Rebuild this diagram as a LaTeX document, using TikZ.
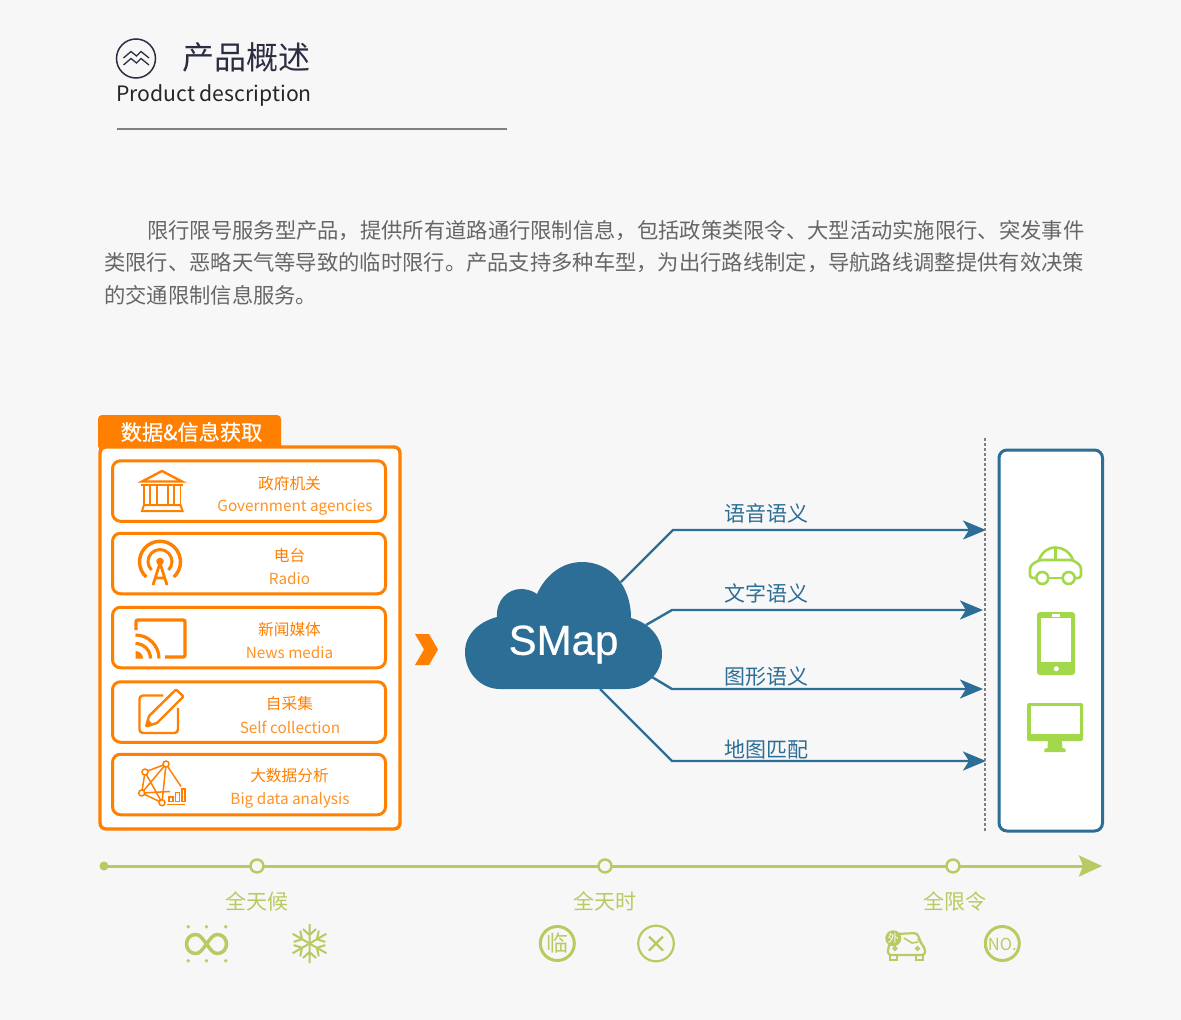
\documentclass[tikz,border=0pt]{standalone}
\usepackage{fontspec}
\setmainfont{Noto Sans CJK SC}
\newfontfamily\titlefont[FakeBold=0.6]{Noto Sans CJK SC}
\newfontfamily\smapfont[FakeBold=0.6]{Liberation Sans}
\usetikzlibrary{arrows.meta}

\definecolor{pagebg}{HTML}{F7F7F7}
\definecolor{dataorange}{HTML}{FF7F00}
\definecolor{cloudblue}{HTML}{2C6E96}
\definecolor{devgreen}{HTML}{A3D84A}
\definecolor{linegreen}{HTML}{B9CA62}
\definecolor{headdark}{HTML}{2B2D42}
\definecolor{bodygrey}{HTML}{666666}

\newcommand{\snowarm}[1]{
    \draw[timeicon, line width=2pt, rotate around={#1:(309.5,-943.5)}]
        (309.5,-943.5) -- (309.5,-924) (303,-929) -- (309.5,-935) -- (316,-929);
}

\begin{document}
\begin{tikzpicture}[x=1pt, y=1pt]
    \tikzset{
        cardbox/.style={draw=dataorange, line width=3pt, fill=white, rounded corners=8pt,
            minimum width=273pt, minimum height=60.5pt},
        cardzh/.style={text=dataorange, font=\fontsize{15.7}{15.7}\selectfont, inner sep=0pt},
        carden/.style={text=dataorange!85, font=\fontsize{15.3}{15.3}\selectfont, inner sep=0pt},
        linkline/.style={draw=cloudblue, line width=2.4pt},
        linktip/.style={linkline, -{Stealth[length=23pt, width=19pt, inset=6pt]}},
        linklabel/.style={text=cloudblue, font=\fontsize{21}{21}\selectfont, inner sep=0pt},
        bodyline/.style={anchor=west, text=bodygrey, font=\fontsize{21.3}{21.3}\selectfont, inner sep=0pt},
        orangeicon/.style={draw=dataorange, line width=2.4pt},
        devicon/.style={draw=devgreen, line width=2.6pt},
        timeicon/.style={draw=linegreen, line width=3pt},
        timelabel/.style={text=linegreen, font=\fontsize{21}{21}\selectfont, inner sep=0pt},
        timestop/.style={circle, draw=linegreen, line width=2.4pt, fill=pagebg, minimum size=13pt, inner sep=0pt},
    }

    % Page
    \fill[pagebg] (0,0) rectangle (1181,-1020);
    \useasboundingbox (0,0) rectangle (1181,-1020);

    % Heading
    \draw[headdark, line width=1.5pt] (136,-58.5) circle (19.5);
    \draw[headdark, line width=1.3pt, line join=miter] (123.5,-58) -- (131,-51.5) -- (136.5,-56) -- (141,-51.5) -- (149,-58);
    \draw[headdark, line width=1.3pt, line join=miter] (123.5,-65) -- (131,-58.5) -- (136.5,-63) -- (141,-58.5) -- (149,-65);
    \node[anchor=west, inner sep=0pt, text=headdark, font=\fontsize{32}{32}\selectfont] (headzh) at (182,-57) {产品概述};
    \node[anchor=west, inner sep=0pt, text=black!85, font=\fontsize{21.2}{21.2}\selectfont] (headen) at (116,-95) {Product description};
    \draw[black!50, line width=1.1pt] (117,-129) -- (507,-129);

    % Body text
    \node[bodyline] (bodya) at (147,-231) {限行限号服务型产品，提供所有道路通行限制信息，包括政策类限令、大型活动实施限行、突发事件};
    \node[bodyline] (bodyb) at (104,-263) {类限行、恶略天气等导致的临时限行。产品支持多种车型，为出行路线制定，导航路线调整提供有效决策};
    \node[bodyline] (bodyc) at (104,-295) {的交通限制信息服务。};

    % Data box
    \fill[dataorange, rounded corners=4pt] (98,-450) -- (98,-415) -- (281,-415) -- (281,-450) -- cycle;
    \draw[dataorange, line width=3.4pt, fill=white, rounded corners=6pt] (100,-447) rectangle (400,-829);
    \fill[dataorange] (98.5,-430) rectangle (281,-446);
    \node[text=white, inner sep=0pt, font=\titlefont\fontsize{21.2}{21.2}\selectfont] (datatitle) at (191.5,-432) {数据\&信息获取};

    % Cards
    \node[cardbox] (govcard) at (249,-491) {};
    \node[cardbox] (radiocard) at (249,-563.5) {};
    \node[cardbox] (newscard) at (249,-637.5) {};
    \node[cardbox] (selfcard) at (249,-712) {};
    \node[cardbox] (bigcard) at (249,-784.5) {};

    \node[cardzh] (govzh) at (289.5,-483) {政府机关};
    \node[carden] (goven) at (295,-507) {Government agencies};
    \node[cardzh] (radiozh) at (289.5,-555) {电台};
    \node[carden] (radioen) at (289.5,-578.5) {Radio};
    \node[cardzh] (newszh) at (289.5,-629) {新闻媒体};
    \node[carden] (newsen) at (289.5,-652.5) {News media};
    \node[cardzh] (selfzh) at (289.5,-704) {自采集};
    \node[carden] (selfen) at (290,-727.5) {Self collection};
    \node[cardzh] (bigzh) at (289.5,-776) {大数据分析};
    \node[carden] (bigen) at (290,-800) {Big data analysis};

    % Government icon
    \draw[orangeicon, line join=miter] (142,-481.5) -- (162,-471) -- (182,-481.5) -- cycle;
    \draw[orangeicon, line width=2pt] (141,-485) -- (183,-485);
    \draw[orangeicon, line width=1.7pt] (144,-485) -- (144,-505) (150,-485) -- (150,-505) (157,-485) -- (157,-505)
        (168,-485) -- (168,-505) (174,-485) -- (174,-505) (180.5,-485) -- (180.5,-505);
    \draw[orangeicon, line width=2pt, line join=miter] (144,-505) -- (180.5,-505) -- (182.5,-511) -- (142,-511) -- cycle;

    % Radio icon
    \draw[orangeicon, line width=3.4pt] (146.3,-577) arc (228:-48:20.5);
    \draw[orangeicon, line width=3pt] (151.5,-570) arc (225:-45:12);
    \fill[dataorange] (160,-561.5) circle (3.8);
    \draw[orangeicon, line width=2.8pt, line join=miter] (153,-585) -- (160,-563) -- (167,-585) (155,-578) -- (165,-578);

    % Media icon
    \draw[orangeicon, line width=3.4pt, rounded corners=2pt] (136,-630) -- (136,-620) -- (185,-620) -- (185,-657) -- (165,-657);
    \fill[dataorange] (135.5,-658.5) -- (135.5,-651) arc (90:0:7.5) -- cycle;
    \draw[orangeicon, line width=3.2pt] (135.5,-643.5) arc (90:0:15);
    \draw[orangeicon, line width=3.2pt] (135.5,-635) arc (90:0:23.5);

    % Pencil icon
    \draw[orangeicon, rounded corners=3.5pt] (163,-695.5) -- (139.5,-695.5) -- (139.5,-733) -- (178,-733) -- (178,-708);
    \draw[orangeicon, line join=round, rounded corners=1pt] (146,-726.5) -- (149,-716) -- (176,-689.5) -- (183.5,-696.5) -- (157,-723) -- cycle;
    \fill[dataorange] (146,-726.5) -- (148,-719) -- (153,-724.5) -- cycle;

    % Network icon
    \draw[orangeicon, line width=1.5pt] (166,-764) -- (145,-772) -- (141.7,-793) -- (162,-802.7) -- (166,-764) -- (141.7,-793)
        (145,-772) -- (162,-802.7) (166,-764) -- (181,-786.5) (141.7,-793) -- (170,-791.5);
    \draw[orangeicon, line width=1.5pt, fill=white] (166,-764) circle (3) (145,-772) circle (3)
        (141.7,-793) circle (3) (162,-802.7) circle (3);
    \draw[orangeicon, line width=1.4pt] (169,-797) rectangle (173,-801.5) (175.5,-792.5) rectangle (179.5,-801.5)
        (182,-789) rectangle (185,-801.5);
    \draw[orangeicon, line width=1pt] (167,-804) -- (185,-804);

    % Chevron
    \fill[dataorange] (415,-634) -- (429,-634) -- (438,-649.5) -- (429,-665) -- (415,-665) -- (424,-649.5) -- cycle;

    % Connector ends
    \coordinate (startvoice) at (621,-582);
    \coordinate (bendvoice) at (673,-530);
    \coordinate (tipvoice) at (986,-530);
    \coordinate (starttext) at (646,-625);
    \coordinate (bendtext) at (672,-610);
    \coordinate (tiptext) at (983,-610);
    \coordinate (startimage) at (652,-677);
    \coordinate (bendimage) at (672,-689);
    \coordinate (tipimage) at (983,-689);
    \coordinate (startmap) at (600,-689);
    \coordinate (bendmap) at (672,-761);
    \coordinate (tipmap) at (986,-761);

    % Connectors
    \draw[linktip] (startvoice) -- (bendvoice) -- (tipvoice);
    \draw[linktip] (starttext) -- (bendtext) -- (tiptext);
    \draw[linktip] (startimage) -- (bendimage) -- (tipimage);
    \draw[linktip] (startmap) -- (bendmap) -- (tipmap);
    \node[linklabel] (voicelabel) at (766,-513) {语音语义};
    \node[linklabel] (textlabel) at (766,-593) {文字语义};
    \node[linklabel] (imagelabel) at (766,-677) {图形语义};
    \node[linklabel] (maplabel) at (766,-750) {地图匹配};

    % Cloud
    \fill[cloudblue] (500,-689) .. controls (480,-689) and (465,-672) .. (465,-652)
        .. controls (465,-635) and (478,-622) .. (497,-617)
        .. controls (496,-600) and (508,-589) .. (521,-589)
        .. controls (527,-589) and (533,-591) .. (537,-594)
        .. controls (546,-574) and (563,-562) .. (582,-562)
        .. controls (610,-562) and (631,-585) .. (631,-618)
        .. controls (650,-623) and (662,-638) .. (662,-654)
        .. controls (662,-674) and (645,-689) .. (625,-689) -- cycle;
    \node[text=white, inner sep=0pt, font=\smapfont\fontsize{42}{42}\selectfont] (smap) at (563.5,-644.5) {SMap};

    % Device panel
    \draw[black!50, line width=1.8pt, dash pattern=on 2.5pt off 2.5pt] (985,-438) -- (985,-831);
    \draw[cloudblue, line width=3pt, fill=white, rounded corners=8pt] (999,-450) rectangle (1102.5,-831);

    % Car
    \draw[devicon, rounded corners=3pt] (1036,-578) -- (1030,-578) -- (1030,-566) -- (1039,-560) -- (1073,-560) -- (1081,-566) -- (1081,-578) -- (1075,-578);
    \draw[devicon] (1039,-560) .. controls (1042,-552) and (1048,-547.5) .. (1055.5,-547.5) .. controls (1063,-547.5) and (1070,-552) .. (1073,-560);
    \draw[devicon] (1055.5,-547.5) -- (1055.5,-560) (1048.5,-578) -- (1062.5,-578);
    \draw[devicon] (1042.3,-578) circle (6) (1068.7,-578) circle (6);

    % Phone
    \fill[devgreen, rounded corners=3pt] (1037,-612) rectangle (1075,-675);
    \fill[white] (1041,-618.3) rectangle (1071.3,-662);
    \fill[white] (1051.7,-614.3) rectangle (1060,-616.7);
    \fill[white] (1056.3,-668.7) circle (2.5);

    % Monitor
    \fill[devgreen, rounded corners=2pt] (1027,-703) rectangle (1083,-741);
    \fill[white] (1030.7,-706) rectangle (1080,-734);
    \fill[devgreen] (1048,-741) -- (1061.7,-741) -- (1062.5,-748) -- (1065.7,-749) -- (1065.7,-752) -- (1044.3,-752) -- (1044.3,-749) -- (1047.5,-748) -- cycle;

    % Timeline
    \coordinate (linestart) at (104,-866);
    \coordinate (lineend) at (1102,-866);
    \draw[draw=linegreen, line width=3pt, -{Stealth[length=23pt, width=21pt, inset=4pt]}] (linestart) -- (lineend);
    \fill[linegreen] (linestart) circle (4.5);
    \node[timestop] (stopa) at (257,-866) {};
    \node[timestop] (stopb) at (605,-866) {};
    \node[timestop] (stopc) at (953,-866) {};
    \node[timelabel] (weather) at (257,-901) {全天候};
    \node[timelabel] (allday) at (605,-901) {全天时};
    \node[timelabel] (allrule) at (955,-901) {全限令};

    % Infinity icon
    \draw[timeicon, line width=3.5pt] (206.5,-944) .. controls (202,-938) and (200,-934.5) .. (195.5,-934.5)
        .. controls (190,-934.5) and (186.5,-939) .. (186.5,-944)
        .. controls (186.5,-949) and (190,-953.5) .. (195.5,-953.5)
        .. controls (200,-953.5) and (202,-950) .. (206.5,-944)
        .. controls (211,-938) and (213,-934.5) .. (217.5,-934.5)
        .. controls (223,-934.5) and (226.5,-939) .. (226.5,-944)
        .. controls (226.5,-949) and (223,-953.5) .. (217.5,-953.5)
        .. controls (213,-953.5) and (211,-950) .. (206.5,-944) -- cycle;
    \fill[linegreen] (188.3,-926.7) circle (1.9) (206.5,-926.7) circle (1.9) (225.7,-926.7) circle (1.9)
        (188.3,-960.7) circle (1.9) (206.5,-960.7) circle (1.9) (225.7,-960.7) circle (1.9);

    % Snowflake
    \snowarm{0}
    \snowarm{60}
    \snowarm{120}
    \snowarm{180}
    \snowarm{240}
    \snowarm{300}

    % Round signs
    \draw[timeicon] (557.3,-943.5) circle (17);
    \node[text=linegreen, inner sep=0pt, font=\fontsize{22}{22}\selectfont] (linsign) at (557.3,-943.5) {临};
    \draw[timeicon, line width=2.2pt] (656,-943.5) circle (17.8);
    \draw[timeicon, line width=2.4pt] (649,-936.5) -- (663,-950.5) (663,-936.5) -- (649,-950.5);
    \draw[timeicon] (1002.3,-943.5) circle (17);
    \node[text=linegreen, inner sep=0pt, font=\fontsize{16.5}{16.5}\selectfont] (nosign) at (1002.3,-944) {NO.};

    % Foreign car icon
    \draw[timeicon, line width=2.2pt, rounded corners=3pt] (890,-944) -- (896,-934) -- (917,-933) -- (922,-945) -- (925,-948) -- (925,-955) -- (888,-955) -- (888,-948) -- cycle;
    \draw[timeicon, line width=2.2pt] (890,-955) -- (890,-960) -- (897,-960) -- (897,-955) (916,-955) -- (916,-960) -- (923,-960) -- (923,-955);
    \draw[timeicon, line width=1.6pt] (904,-938) -- (912,-943) -- (918,-942);
    \draw[timeicon, line width=1.6pt] (895,-948.5) circle (1.8) (917.5,-948.5) circle (1.8);
    \node[circle, fill=linegreen, text=white, inner sep=0pt, minimum size=16pt, font=\fontsize{11}{11}\selectfont] (waibadge) at (893.3,-938.3) {外};
\end{tikzpicture}
\end{document}
